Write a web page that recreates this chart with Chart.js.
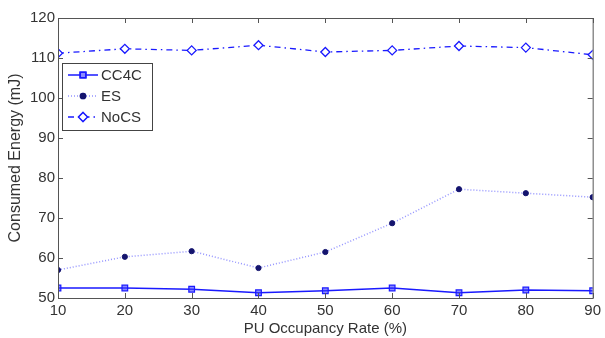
<!DOCTYPE html>
<html>
<head>
<meta charset="utf-8">
<script src="https://cdn.jsdelivr.net/npm/chart.js@4"></script>
<style>
  html, body { margin: 0; padding: 0; background: #fff; }
  #wrap { width: 605px; height: 338px; }
</style>
</head>
<body>
<div id="wrap"><canvas id="energyChart" width="605" height="338"></canvas></div>
<script>
const occupancy = [10, 20, 30, 40, 50, 60, 70, 80, 90];
const cc4c = [52.5, 52.5, 52.2, 51.3, 51.8, 52.5, 51.3, 52.0, 51.8];
const es = [57.0, 60.3, 61.7, 57.5, 61.5, 68.7, 77.2, 76.2, 75.2];
const nocs = [111.2, 112.3, 111.9, 113.2, 111.5, 111.9, 113.0, 112.6, 110.8];
const xTicks = [10, 20, 30, 40, 50, 60, 70, 80, 90];
const yTicks = [50, 60, 70, 80, 90, 100, 110, 120];

const blue = '#1a1aff';
const font = 'Liberation Sans, Arial, sans-serif';

function pts(arr) {
    return occupancy.map((x, i) => ({ x: x, y: arr[i] }));
}

// box + inward ticks, matlab style
const boxPlugin = {
    id: 'box',
    afterDraw(chart) {
        const { ctx, chartArea: a, scales } = chart;
        ctx.save();
        ctx.strokeStyle = '#555';
        ctx.lineWidth = 1;
        ctx.strokeRect(a.left + 0.5, a.top + 0.5, a.right - a.left, a.bottom - a.top);
        ctx.beginPath();
        xTicks.forEach(v => {
            const px = Math.round(scales.x.getPixelForValue(v)) + 0.5;
            ctx.moveTo(px, a.bottom); ctx.lineTo(px, a.bottom - 5);
            ctx.moveTo(px, a.top); ctx.lineTo(px, a.top + 5);
        });
        yTicks.forEach(v => {
            const py = Math.round(scales.y.getPixelForValue(v)) + 0.5;
            ctx.moveTo(a.left, py); ctx.lineTo(a.left + 5, py);
            ctx.moveTo(a.right, py); ctx.lineTo(a.right - 5, py);
        });
        ctx.stroke();
        ctx.restore();
    }
};

// legend inside plot area, top-left
const insideLegend = {
    id: 'insideLegend',
    afterDraw(chart) {
        const { ctx, chartArea: a } = chart;
        const x0 = a.left + 4, y0 = a.top + 45, w = 90, h = 67;
        ctx.save();
        ctx.fillStyle = '#fff';
        ctx.fillRect(x0, y0, w, h);
        ctx.strokeStyle = '#444';
        ctx.lineWidth = 1;
        ctx.strokeRect(x0 + 0.5, y0 + 0.5, w, h);
        ctx.font = '15px ' + font;
        ctx.textBaseline = 'middle';
        chart.data.datasets.forEach((ds, i) => {
            const cy = y0 + 12 + i * 21;
            ctx.strokeStyle = ds.borderColor;
            ctx.lineWidth = ds.borderWidth;
            ctx.setLineDash(ds.borderDash || []);
            ctx.beginPath();
            ctx.moveTo(x0 + 6, cy); ctx.lineTo(x0 + 36, cy);
            ctx.stroke();
            ctx.setLineDash([]);
            Chart.helpers.drawPoint(ctx, {
                pointStyle: ds.pointStyle,
                radius: ds.pointRadius,
                borderWidth: ds.pointBorderWidth || 1
            }, x0 + 21, cy);
            ctx.fillStyle = ds.pointBackgroundColor;
            ctx.strokeStyle = ds.pointBorderColor;
            ctx.fill();
            ctx.stroke();
            ctx.fillStyle = '#333';
            ctx.fillText(ds.label, x0 + 39, cy + 1);
        });
        ctx.restore();
    }
};

const ctx = document.getElementById('energyChart');
const energyChart = new Chart(ctx, {
    type: 'line',
    data: {
        datasets: [
            {
                label: 'CC4C',
                data: pts(cc4c),
                borderColor: blue,
                borderWidth: 1.5,
                pointStyle: 'rect',
                pointRadius: 4,
                pointBackgroundColor: 'rgba(60,60,255,0.6)',
                pointBorderColor: blue,
                pointBorderWidth: 1.2
            },
            {
                label: 'ES',
                data: pts(es),
                borderColor: 'rgba(60,60,255,0.55)',
                borderWidth: 1.5,
                borderDash: [1, 2],
                pointStyle: 'circle',
                pointRadius: 2.6,
                pointBackgroundColor: '#14146e',
                pointBorderColor: '#14146e',
                pointBorderWidth: 1
            },
            {
                label: 'NoCS',
                data: pts(nocs),
                borderColor: blue,
                borderWidth: 1.3,
                borderDash: [6, 4, 1.5, 4],
                pointStyle: 'rectRot',
                pointRadius: 4.5,
                pointBackgroundColor: '#fff',
                pointBorderColor: blue,
                pointBorderWidth: 1.3
            }
        ]
    },
    options: {
        responsive: false,
        animation: false,
        layout: { padding: { top: 18, right: 10, left: 0, bottom: 0 } },
        plugins: {
            legend: { display: false },
            tooltip: { enabled: false }
        },
        scales: {
            x: {
                type: 'linear',
                min: 10,
                max: 90,
                afterBuildTicks: s => { s.ticks = xTicks.map(v => ({ value: v })); },
                afterFit: s => { s.height = 40; },
                grid: { display: false, drawTicks: false },
                border: { display: false },
                ticks: { color: '#333', padding: 4, font: { family: font, size: 15 } },
                title: {
                    display: true,
                    text: 'PU Occupancy Rate (%)',
                    color: '#333',
                    padding: { top: 0, bottom: 0 },
                    font: { family: font, size: 15 }
                }
            },
            y: {
                min: 50,
                max: 120,
                afterBuildTicks: s => { s.ticks = yTicks.map(v => ({ value: v })); },
                afterFit: s => { s.width = 58; },
                grid: { display: false, drawTicks: false },
                border: { display: false },
                ticks: { color: '#333', padding: 3, font: { family: font, size: 15 } },
                title: {
                    display: true,
                    text: 'Consumed Energy (mJ)',
                    color: '#333',
                    padding: { top: 6, bottom: 0 },
                    font: { family: font, size: 16 }
                }
            }
        }
    },
    plugins: [boxPlugin, insideLegend]
});
</script>
</body>
</html>
